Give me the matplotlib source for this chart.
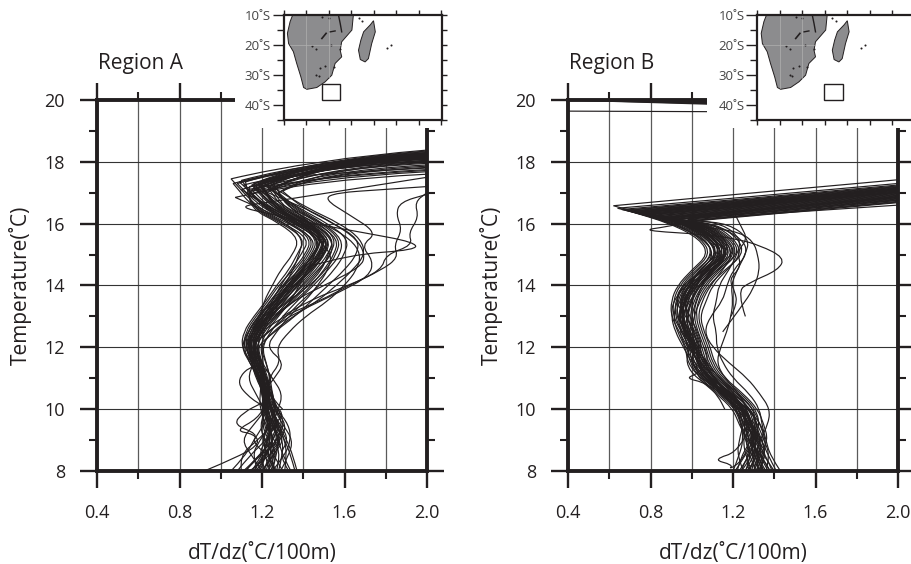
import matplotlib
matplotlib.use("Agg")
import matplotlib.pyplot as plt
from matplotlib.patches import Rectangle, Polygon, PathPatch
from matplotlib.path import Path

W, H = 911, 564
INK = "#231f20"
plt.rcParams["font.family"] = ["Open Sans", "DejaVu Sans"]

x_ticks = [0.4, 0.8, 1.2, 1.6, 2.0]
x_labels = ["0.4", "0.8", "1.2", "1.6", "2.0"]
y_ticks = [8, 10, 12, 14, 16, 18, 20]
x_minor = [0.6, 1.0, 1.4, 1.8]
y_minor = [9, 11, 13, 15, 17, 19]

# temperature levels the profiles were read at
a_temp = [8, 8.5, 9, 9.5, 10, 10.5, 11, 11.5, 12, 12.5, 13, 13.5, 14, 14.5, 15, 15.5, 16, 16.5]
b_temp = [8, 8.5, 9, 9.5, 10, 10.5, 11, 11.5, 12, 12.5, 13, 13.5, 14, 14.5, 15, 15.5, 16]

# Region A, dT/dz at a_temp, one row per profile
a_rows = [
    [1.22, 1.24, 1.25, 1.24, 1.22, 1.21, 1.20, 1.17, 1.14, 1.16, 1.21, 1.28, 1.34, 1.41, 1.47, 1.50, 1.40, 1.27],
    [1.25, 1.27, 1.28, 1.26, 1.24, 1.22, 1.21, 1.18, 1.15, 1.18, 1.23, 1.30, 1.36, 1.43, 1.49, 1.52, 1.42, 1.26],
    [1.19, 1.22, 1.24, 1.23, 1.21, 1.20, 1.19, 1.16, 1.13, 1.15, 1.20, 1.27, 1.33, 1.40, 1.46, 1.49, 1.39, 1.24],
    [1.28, 1.30, 1.30, 1.27, 1.25, 1.23, 1.21, 1.19, 1.16, 1.19, 1.25, 1.31, 1.37, 1.44, 1.50, 1.53, 1.44, 1.30],
    [1.15, 1.20, 1.23, 1.24, 1.23, 1.21, 1.18, 1.15, 1.12, 1.14, 1.19, 1.25, 1.31, 1.38, 1.44, 1.47, 1.37, 1.22],
    [1.31, 1.32, 1.31, 1.28, 1.25, 1.22, 1.20, 1.18, 1.16, 1.20, 1.26, 1.33, 1.39, 1.46, 1.52, 1.55, 1.46, 1.33],
    [1.24, 1.21, 1.22, 1.25, 1.23, 1.22, 1.21, 1.19, 1.17, 1.17, 1.22, 1.29, 1.35, 1.39, 1.45, 1.48, 1.36, 1.20],
    [1.12, 1.18, 1.26, 1.27, 1.24, 1.23, 1.22, 1.18, 1.14, 1.15, 1.20, 1.26, 1.32, 1.39, 1.48, 1.51, 1.43, 1.29],
    [1.36, 1.34, 1.31, 1.27, 1.26, 1.24, 1.22, 1.20, 1.17, 1.21, 1.24, 1.28, 1.33, 1.37, 1.43, 1.46, 1.33, 1.18],
    [1.20, 1.26, 1.29, 1.24, 1.21, 1.20, 1.19, 1.15, 1.13, 1.16, 1.22, 1.30, 1.38, 1.45, 1.50, 1.49, 1.38, 1.25],
    [1.08, 1.14, 1.22, 1.26, 1.22, 1.21, 1.20, 1.17, 1.15, 1.18, 1.24, 1.32, 1.40, 1.47, 1.54, 1.54, 1.45, 1.31],
    [1.26, 1.24, 1.27, 1.30, 1.27, 1.24, 1.19, 1.16, 1.12, 1.13, 1.18, 1.24, 1.30, 1.36, 1.42, 1.45, 1.35, 1.19],
    [1.17, 1.23, 1.20, 1.23, 1.22, 1.20, 1.22, 1.20, 1.18, 1.19, 1.27, 1.34, 1.41, 1.48, 1.53, 1.56, 1.48, 1.35],
    [1.33, 1.28, 1.33, 1.29, 1.24, 1.23, 1.23, 1.18, 1.14, 1.17, 1.21, 1.25, 1.29, 1.34, 1.39, 1.43, 1.31, 1.16],
    [1.10, 1.09, 1.18, 1.25, 1.25, 1.22, 1.21, 1.19, 1.15, 1.20, 1.23, 1.27, 1.34, 1.42, 1.50, 1.52, 1.41, 1.24],
    [1.29, 1.33, 1.35, 1.30, 1.26, 1.25, 1.22, 1.17, 1.11, 1.12, 1.17, 1.23, 1.28, 1.35, 1.41, 1.44, 1.34, 1.21],
    [1.21, 1.19, 1.24, 1.21, 1.20, 1.21, 1.19, 1.16, 1.14, 1.17, 1.26, 1.36, 1.44, 1.50, 1.55, 1.57, 1.47, 1.32],
    [1.23, 1.25, 1.23, 1.26, 1.24, 1.22, 1.20, 1.21, 1.19, 1.22, 1.28, 1.34, 1.38, 1.42, 1.46, 1.47, 1.40, 1.28],
    [1.18, 1.15, 1.19, 1.24, 1.22, 1.20, 1.18, 1.14, 1.11, 1.13, 1.18, 1.26, 1.36, 1.44, 1.48, 1.50, 1.37, 1.23],
    [1.27, 1.29, 1.26, 1.22, 1.23, 1.24, 1.23, 1.20, 1.16, 1.16, 1.20, 1.27, 1.32, 1.40, 1.51, 1.53, 1.43, 1.27],
    [1.05, 1.12, 1.16, 1.21, 1.23, 1.22, 1.20, 1.18, 1.15, 1.19, 1.25, 1.29, 1.35, 1.43, 1.47, 1.51, 1.44, 1.34],
    [1.37, 1.35, 1.32, 1.28, 1.25, 1.22, 1.21, 1.17, 1.13, 1.15, 1.19, 1.24, 1.30, 1.38, 1.46, 1.48, 1.36, 1.21],
    [1.14, 1.24, 1.30, 1.25, 1.21, 1.23, 1.22, 1.19, 1.17, 1.21, 1.27, 1.35, 1.42, 1.49, 1.52, 1.55, 1.45, 1.28],
    [1.22, 1.18, 1.22, 1.27, 1.26, 1.21, 1.17, 1.15, 1.12, 1.15, 1.23, 1.33, 1.43, 1.51, 1.56, 1.58, 1.49, 1.36],
    [1.30, 1.26, 1.21, 1.19, 1.22, 1.23, 1.21, 1.16, 1.13, 1.14, 1.20, 1.26, 1.31, 1.35, 1.38, 1.40, 1.32, 1.17],
    [1.16, 1.21, 1.27, 1.31, 1.28, 1.24, 1.22, 1.20, 1.15, 1.18, 1.22, 1.28, 1.34, 1.40, 1.44, 1.50, 1.41, 1.25],
    [1.25, 1.31, 1.34, 1.33, 1.27, 1.25, 1.24, 1.22, 1.20, 1.24, 1.30, 1.37, 1.45, 1.52, 1.58, 1.59, 1.50, 1.37],
    [1.11, 1.19, 1.25, 1.22, 1.19, 1.19, 1.20, 1.15, 1.10, 1.11, 1.16, 1.22, 1.27, 1.33, 1.37, 1.41, 1.30, 1.15],
    [1.20, 1.15, 1.10, 1.16, 1.22, 1.20, 1.26, 1.31, 1.22, 1.27, 1.33, 1.41, 1.47, 1.52, 1.54, 1.47, 1.39, 1.26],
    [1.24, 1.28, 1.23, 1.20, 1.21, 1.17, 1.13, 1.16, 1.14, 1.23, 1.32, 1.39, 1.48, 1.55, 1.60, 1.62, 1.52, 1.38],
    [1.34, 1.30, 1.28, 1.25, 1.28, 1.30, 1.25, 1.20, 1.17, 1.26, 1.36, 1.44, 1.52, 1.60, 1.66, 1.67, 1.55, 1.40],
    [1.21, 1.23, 1.29, 1.32, 1.26, 1.23, 1.19, 1.14, 1.10, 1.13, 1.19, 1.21, 1.25, 1.29, 1.35, 1.38, 1.29, 1.14],
    [1.18, 1.22, 1.26, 1.23, 1.20, 1.22, 1.24, 1.22, 1.19, 1.25, 1.35, 1.47, 1.56, 1.64, 1.70, 1.68, 1.58, 1.42],
    [1.27, 1.23, 1.20, 1.24, 1.27, 1.25, 1.23, 1.29, 1.27, 1.33, 1.41, 1.52, 1.60, 1.66, 1.68, 1.63, 1.50, 1.33],
    [1.23, 1.27, 1.24, 1.28, 1.25, 1.21, 1.19, 1.17, 1.16, 1.19, 1.22, 1.26, 1.33, 1.41, 1.49, 1.50, 1.42, 1.25],
    [1.16, 1.20, 1.28, 1.25, 1.23, 1.21, 1.21, 1.17, 1.13, 1.16, 1.24, 1.31, 1.37, 1.42, 1.48, 1.53, 1.38, 1.22],
    [1.26, 1.22, 1.25, 1.29, 1.24, 1.23, 1.20, 1.18, 1.15, 1.17, 1.23, 1.29, 1.36, 1.44, 1.51, 1.51, 1.40, 1.28],
    [1.20, 1.25, 1.31, 1.26, 1.22, 1.22, 1.18, 1.16, 1.14, 1.15, 1.21, 1.28, 1.32, 1.39, 1.45, 1.49, 1.44, 1.30],
]
# where each profile turns back, then its bend near x = 1.45 and its value at x = 2.0
a_turn_x = [1.16, 1.20, 1.10, 1.22, 1.14, 1.25, 1.08, 1.18, 1.05, 1.12, 1.24, 1.07, 1.20, 1.06, 1.15, 1.11, 1.22, 1.19,
            1.09, 1.17, 1.26, 1.10, 1.21, 1.23, 1.13, 1.16, 1.28, 1.12, 1.20, 1.24, 1.30, 1.14, 1.26, 1.28, 1.15, 1.13, 1.18, 1.17]
a_turn_t = [17.2, 17.3, 17.1, 17.25, 17.05, 17.35, 17.3, 17.15, 17.45, 17.0, 17.2, 16.85, 17.4, 17.3, 17.1, 17.25, 17.0, 17.3,
            17.35, 17.15, 17.1, 17.4, 17.05, 17.2, 16.95, 17.3, 17.0, 17.35, 17.2, 17.1, 17.05, 17.2, 17.15, 17.0, 17.25, 17.1, 17.3, 17.2]
a_knee_t = [17.93, 17.97, 17.85, 17.9, 17.76, 18.04, 17.95, 17.9, 18.08, 17.56, 17.98, 17.42, 18.05, 18.0, 17.91, 17.82, 17.7, 18.02,
            17.94, 17.88, 17.97, 18.03, 17.8, 18.0, 17.49, 18.01, 17.78, 18.07, 17.96, 17.92, 17.62, 17.84, 17.91, 17.66, 18.04, 17.52, 17.99, 17.89]
a_end_t = [18.15, 18.2, 18.05, 18.1, 17.95, 18.3, 18.18, 18.1, 18.38, 17.75, 18.22, 17.6, 18.33, 18.25, 18.12, 18.02, 17.9, 18.27,
           18.17, 18.08, 18.21, 18.28, 18.0, 18.24, 17.68, 18.26, 17.98, 18.35, 18.19, 18.14, 17.82, 18.04, 18.13, 17.86, 18.3, 17.72, 18.23, 18.11]

# Region A profiles that do not follow the main bundle
a_extra_x = [
    [1.30, 1.42, 1.62, 1.78, 1.80, 1.93, 1.91, 1.96, 1.94, 2.00],
    [1.22, 1.30, 1.48, 1.62, 1.78, 1.86, 1.84, 1.88, 1.85, 1.87, 2.00],
    [1.20, 1.28, 1.42, 1.58, 1.72, 1.74, 1.68, 1.76, 1.62, 1.50, 1.56, 1.78, 2.00],
    [1.25, 1.35, 1.50, 1.68, 1.70, 1.66, 1.55, 1.44, 1.30, 1.16, 1.28, 1.60, 2.00],
    [1.42, 1.62, 1.95, 1.94, 1.70, 1.45, 1.25, 1.08, 1.24, 2.00],
    [0.92, 1.10, 1.19, 1.16, 1.07, 1.18, 1.22],
    [1.12, 1.20, 1.30, 1.24, 1.32, 1.18, 1.24],
    [1.30, 1.21, 1.26, 1.16, 1.07, 1.15, 1.24, 1.30],
    [1.23, 1.15, 1.18, 1.06, 1.11, 1.20],
]
a_extra_t = [
    [13.0, 13.5, 14.0, 14.5, 15.0, 15.3, 15.7, 16.2, 16.7, 17.0],
    [12.6, 13.0, 13.5, 14.0, 14.5, 14.9, 15.3, 15.8, 16.3, 16.7, 16.95],
    [12.3, 12.8, 13.3, 13.8, 14.3, 14.8, 15.3, 15.7, 16.3, 16.8, 17.0, 17.1, 17.2],
    [13.0, 13.5, 14.0, 14.6, 15.0, 15.5, 16.0, 16.4, 16.8, 17.2, 17.5, 17.65, 17.8],
    [14.6, 15.0, 15.15, 15.4, 15.7, 16.0, 16.3, 16.55, 16.7, 17.5],
    [8.0, 8.5, 8.9, 9.2, 9.3, 9.7, 10.2],
    [8.0, 8.6, 9.0, 9.4, 9.9, 10.4, 11.0],
    [10.0, 10.6, 11.1, 11.5, 10.9, 10.3, 10.0, 9.8],
    [8.5, 8.9, 9.2, 9.5, 9.9, 10.2],
]

# Region B, dT/dz at b_temp, one row per profile
b_rows = [
    [1.32, 1.32, 1.30, 1.27, 1.25, 1.17, 1.08, 1.03, 1.02, 0.98, 0.96, 0.96, 1.00, 1.07, 1.16, 1.12, 1.00],
    [1.30, 1.34, 1.33, 1.29, 1.27, 1.19, 1.10, 1.05, 1.03, 0.99, 0.97, 0.98, 1.02, 1.09, 1.18, 1.14, 1.03],
    [1.35, 1.30, 1.28, 1.25, 1.23, 1.15, 1.06, 1.01, 1.00, 0.96, 0.94, 0.95, 0.98, 1.05, 1.14, 1.10, 0.98],
    [1.28, 1.31, 1.31, 1.30, 1.26, 1.18, 1.11, 1.06, 1.04, 1.00, 0.98, 0.99, 1.04, 1.11, 1.19, 1.15, 1.02],
    [1.33, 1.36, 1.34, 1.31, 1.29, 1.20, 1.09, 1.02, 1.01, 0.97, 0.93, 0.93, 0.97, 1.04, 1.12, 1.09, 0.96],
    [1.26, 1.29, 1.27, 1.24, 1.22, 1.16, 1.07, 1.04, 1.03, 1.01, 0.99, 1.01, 1.05, 1.12, 1.20, 1.16, 1.05],
    [1.37, 1.33, 1.29, 1.28, 1.24, 1.14, 1.05, 1.00, 0.99, 0.95, 0.92, 0.92, 0.96, 1.03, 1.10, 1.07, 0.94],
    [1.24, 1.27, 1.32, 1.32, 1.28, 1.21, 1.12, 1.07, 1.05, 1.02, 1.00, 1.00, 1.03, 1.10, 1.17, 1.13, 1.01],
    [1.31, 1.35, 1.36, 1.33, 1.30, 1.22, 1.13, 1.08, 1.06, 1.03, 1.01, 1.02, 1.06, 1.13, 1.21, 1.18, 1.06],
    [1.29, 1.26, 1.25, 1.26, 1.24, 1.19, 1.09, 1.03, 0.99, 0.95, 0.91, 0.91, 0.94, 1.01, 1.09, 1.05, 0.92],
    [1.39, 1.36, 1.31, 1.26, 1.21, 1.13, 1.04, 0.99, 0.98, 0.96, 0.95, 0.97, 1.01, 1.08, 1.15, 1.11, 0.99],
    [1.22, 1.24, 1.29, 1.31, 1.30, 1.23, 1.14, 1.09, 1.07, 1.04, 1.02, 1.03, 1.07, 1.14, 1.22, 1.19, 1.07],
    [1.34, 1.31, 1.33, 1.28, 1.26, 1.16, 1.05, 1.00, 1.01, 0.98, 0.96, 0.94, 0.97, 1.06, 1.17, 1.13, 1.01],
    [1.27, 1.33, 1.28, 1.30, 1.25, 1.20, 1.12, 1.04, 0.98, 0.94, 0.90, 0.90, 0.93, 1.00, 1.08, 1.04, 0.90],
    [1.41, 1.37, 1.34, 1.29, 1.27, 1.18, 1.07, 1.02, 1.04, 1.01, 0.97, 0.97, 1.00, 1.06, 1.13, 1.08, 0.95],
    [1.25, 1.22, 1.23, 1.25, 1.23, 1.18, 1.10, 1.06, 1.02, 0.97, 0.95, 0.99, 1.04, 1.12, 1.23, 1.20, 1.08],
    [1.36, 1.38, 1.35, 1.32, 1.28, 1.17, 1.04, 0.98, 0.97, 0.93, 0.91, 0.93, 0.95, 1.02, 1.11, 1.06, 0.93],
    [1.21, 1.26, 1.30, 1.33, 1.31, 1.24, 1.15, 1.10, 1.08, 1.05, 1.03, 1.05, 1.09, 1.15, 1.20, 1.16, 1.04],
    [1.33, 1.29, 1.26, 1.24, 1.22, 1.14, 1.08, 1.05, 1.00, 0.96, 0.98, 1.00, 1.02, 1.07, 1.14, 1.12, 1.00],
    [1.30, 1.32, 1.35, 1.34, 1.27, 1.19, 1.06, 0.99, 1.02, 1.00, 0.94, 0.95, 0.99, 1.04, 1.12, 1.10, 0.97],
    [1.38, 1.34, 1.27, 1.23, 1.20, 1.12, 1.03, 1.02, 1.05, 1.03, 0.99, 0.96, 0.98, 1.05, 1.19, 1.15, 1.04],
    [1.23, 1.28, 1.31, 1.27, 1.24, 1.21, 1.13, 1.08, 1.01, 0.95, 0.93, 0.97, 1.03, 1.11, 1.18, 1.11, 0.98],
    [1.35, 1.32, 1.29, 1.32, 1.29, 1.15, 1.02, 0.97, 0.99, 0.99, 1.00, 1.02, 1.05, 1.09, 1.15, 1.14, 1.02],
    [1.28, 1.25, 1.33, 1.28, 1.22, 1.17, 1.11, 1.07, 1.03, 0.98, 0.92, 0.94, 0.98, 1.08, 1.21, 1.17, 1.05],
    [1.32, 1.37, 1.32, 1.26, 1.25, 1.20, 1.09, 1.01, 0.97, 0.94, 0.96, 0.98, 1.01, 1.10, 1.16, 1.09, 0.96],
    [1.40, 1.35, 1.30, 1.29, 1.26, 1.16, 1.06, 1.03, 1.00, 0.97, 0.95, 0.96, 1.00, 1.03, 1.13, 1.12, 1.01],
    [1.26, 1.30, 1.34, 1.30, 1.28, 1.22, 1.14, 1.06, 1.04, 1.02, 0.97, 0.92, 0.95, 1.06, 1.17, 1.17, 1.07],
    [1.31, 1.28, 1.26, 1.27, 1.23, 1.13, 1.07, 1.00, 0.96, 0.92, 0.90, 0.91, 0.97, 1.05, 1.11, 1.06, 0.91],
    [1.34, 1.33, 1.37, 1.35, 1.32, 1.25, 1.16, 1.11, 1.09, 1.06, 1.04, 1.07, 1.10, 1.17, 1.24, 1.21, 1.10],
    [1.20, 1.23, 1.25, 1.24, 1.21, 1.15, 1.08, 1.04, 1.02, 1.00, 1.01, 1.04, 1.08, 1.16, 1.25, 1.23, 1.12],
    [1.43, 1.38, 1.36, 1.34, 1.33, 1.28, 1.20, 1.15, 1.12, 1.12, 1.10, 1.12, 1.13, 1.18, 1.22, 1.24, 1.15],
    [1.29, 1.31, 1.28, 1.25, 1.27, 1.23, 1.16, 1.12, 1.14, 1.17, 1.19, 1.20, 1.19, 1.22, 1.26, 1.28, 1.18],
    [1.36, 1.31, 1.33, 1.37, 1.38, 1.33, 1.27, 1.18, 1.10, 1.06, 1.09, 1.15, 1.17, 1.20, 1.27, 1.25, 1.10],
    [1.33, 1.30, 1.31, 1.30, 1.24, 1.19, 1.11, 1.06, 1.01, 0.99, 0.97, 1.00, 1.04, 1.10, 1.18, 1.13, 0.99],
    [1.27, 1.32, 1.34, 1.28, 1.26, 1.18, 1.07, 1.04, 1.02, 0.96, 0.94, 0.97, 1.00, 1.08, 1.14, 1.10, 0.97],
    [1.31, 1.29, 1.30, 1.29, 1.25, 1.16, 1.09, 1.05, 1.00, 0.99, 0.95, 0.95, 1.01, 1.06, 1.15, 1.11, 1.00],
    [1.38, 1.33, 1.32, 1.28, 1.24, 1.15, 1.10, 1.02, 1.03, 0.97, 0.96, 0.94, 0.99, 1.09, 1.17, 1.15, 1.02],
    [1.24, 1.30, 1.29, 1.26, 1.26, 1.20, 1.08, 1.03, 0.99, 0.98, 0.93, 0.96, 1.02, 1.07, 1.12, 1.08, 0.95],
]
b_turn_x = [0.78, 0.72, 0.86, 0.82, 0.66, 0.90, 0.62, 0.80, 0.84, 0.70, 0.74, 0.92, 0.76, 0.68, 0.88, 0.94, 0.64, 0.86,
            0.79, 0.73, 0.83, 0.77, 0.91, 0.71, 0.81, 0.85, 0.75, 0.69, 0.95, 0.89, 0.98, 1.02, 0.87, 0.78, 0.74, 0.82, 0.80, 0.76]
b_turn_t = [16.33, 16.39, 16.20, 16.28, 16.46, 16.14, 16.58, 16.29, 16.21, 16.41, 16.35, 16.12, 16.35, 16.44, 16.17, 16.09, 16.50, 16.18,
            16.31, 16.37, 16.25, 16.33, 16.13, 16.40, 16.25, 16.19, 16.35, 16.43, 16.07, 16.16, 16.14, 16.09, 16.18, 16.30, 16.38, 16.22, 16.30, 16.38]
b_knee_t = [16.48, 16.58, 16.31, 16.41, 16.68, 16.23, 16.85, 16.43, 16.33, 16.61, 16.53, 16.19, 16.51, 16.65, 16.27, 16.15, 16.73, 16.29,
            16.46, 16.55, 16.37, 16.49, 16.21, 16.59, 16.39, 16.30, 16.52, 16.63, 16.13, 16.25, 16.18, 16.11, 16.28, 16.45, 16.56, 16.35, 16.44, 16.54]
b_end_t = [17.05, 17.15, 16.88, 16.98, 17.25, 16.8, 17.42, 17.0, 16.9, 17.18, 17.1, 16.76, 17.08, 17.22, 16.84, 16.72, 17.3, 16.86,
           17.03, 17.12, 16.94, 17.06, 16.78, 17.16, 16.96, 16.87, 17.09, 17.2, 16.7, 16.82, 16.75, 16.68, 16.85, 17.02, 17.13, 16.92, 17.01, 17.11]

# Region B profiles that do not follow the main bundle
b_extra_x = [
    [1.26, 1.22, 1.28, 1.42, 1.45, 1.33, 1.22, 1.07, 0.75, 0.88, 1.10, 2.00],
    [1.15, 1.24, 1.30, 1.33, 1.32, 1.30, 1.24, 1.12, 0.96, 0.86, 1.20],
    [1.30, 1.24, 1.10, 1.20, 1.18, 1.24, 1.29, 1.24, 1.22],
    [1.06, 1.09, 1.03, 0.97, 1.07, 1.13, 1.16],
    [1.19, 1.22, 1.21, 1.18, 1.24, 1.22, 1.27, 1.24, 1.21],
    [0.40, 2.00],
]
b_extra_t = [
    [13.0, 13.8, 14.1, 14.5, 14.9, 15.3, 15.5, 15.65, 15.78, 15.9, 16.2, 16.6],
    [12.5, 13.3, 13.9, 14.5, 15.0, 15.4, 15.7, 15.85, 15.95, 16.1, 16.35],
    [9.7, 8.65, 8.37, 8.2, 8.05, 8.3, 9.0, 9.6, 10.2],
    [12.0, 11.6, 11.15, 11.0, 10.85, 10.4, 10.0],
    [13.0, 13.4, 13.8, 14.2, 14.6, 15.1, 15.5, 15.9, 16.3],
    [19.64, 19.6],
]
# the heavy wedge under the top edge of Region B
b_wedge_x = [0.40, 2.00]
b_wedge_ends = [19.69, 19.74, 19.8, 19.85, 19.9]

a_top_x = 1.45
b_top_x = 1.05

# map outlines
africa_lon = [13.1, 12.2, 11.3, 11.7, 13.3, 14.4, 15.8, 16.7, 17.8, 21.1, 23.9, 26.1, 27.2, 29.4, 28.9, 29.4, 32.8, 33.3]
africa_lat = [-10, -12.3, -16.2, -19.6, -22.3, -26.2, -30.7, -34.2, -34.8, -34.2, -32.3, -30.1, -26.2, -24, -21.8, -19, -15.1, -10]
madagascar_lon = [40, 38.9, 36.7, 35.8, 35, 35.6, 37.2, 38.3, 39.4, 40.6]
madagascar_lat = [-12, -13.4, -15.7, -18.4, -21.8, -24.9, -25.7, -24.6, -19.6, -15.7]
lakes_lon = [25, 22.8, 19.4, 20.9, 22, 23.9, 21.7, 20.9, 26.7, 25.8, 28.9, 44.4, 45.8, 35, 36.1]
lakes_lat = [-11.2, -10.9, -20.4, -21.4, -27.7, -27, -30.4, -30.1, -27.3, -20.1, -21.5, -21.2, -20.2, -11.2, -12.1]
malawi_lon = [28.3, 28.9, 29.4]
malawi_lat = [-10, -12.9, -15.7]
kariba_lon = [22.8, 24.2]
kariba_lat = [-17.9, -16.2]
cahora_lon = [25.6, 27.2]
cahora_lat = [-15.7, -15.4]
a_box_lon = [22.8, 28.9]
b_box_lon = [32.3, 38.5]
box_lat = [-38.2, -33.1]
lat_labels = ["10˚S", "20˚S", "30˚S", "40˚S"]


def px_axes(fig, left, right, top, bottom, **kw):
    return fig.add_axes([left / W, 1 - bottom / H, (right - left) / W, (bottom - top) / H], **kw)


def round_path(xs, ys):
    # quadratic pieces through the midpoints, keeps the pen line from looking kinked
    verts = [(xs[0], ys[0])]
    codes = [Path.MOVETO]
    for i in range(1, len(xs) - 1):
        verts += [(xs[i], ys[i]), ((xs[i] + xs[i + 1]) / 2, (ys[i] + ys[i + 1]) / 2)]
        codes += [Path.CURVE3, Path.CURVE3]
    verts.append((xs[-1], ys[-1]))
    codes.append(Path.LINETO)
    return verts, codes


def panel(fig, left, title, title_x, rows, temp, turn_x, turn_t, top_x, knee_t, end_t, extra_x, extra_t):
    ax = px_axes(fig, left, left + 330, 100, 471)
    ax.set_xlim(0.4, 2.0)
    ax.set_ylim(8, 20)
    for v in x_ticks + x_minor:
        ax.axvline(v, color="#5a5a5a", lw=0.9, zorder=1)
    for v in y_ticks:
        ax.axhline(v, color="#333333", lw=0.8, zorder=1)
    for row, tx, tt, kt, et in zip(rows, turn_x, turn_t, knee_t, end_t):
        verts, codes = round_path(row + [tx], temp + [tt])
        verts += [(top_x, kt), (2.0, et)]
        codes += [Path.CURVE3, Path.CURVE3]
        ax.add_patch(PathPatch(Path(verts, codes), fill=False, edgecolor=INK, lw=0.85, zorder=3))
    for ex, et in zip(extra_x, extra_t):
        verts, codes = round_path(ex, et)
        ax.add_patch(PathPatch(Path(verts, codes), fill=False, edgecolor=INK, lw=0.85, zorder=3))

    ax.set_xticks(x_ticks)
    ax.set_xticklabels(x_labels)
    ax.set_yticks(y_ticks)
    ax.set_xticks(x_minor, minor=True)
    ax.set_yticks(y_minor, minor=True)
    ax.tick_params(which="major", length=12, width=1.7, color=INK, top=True, right=True,
                   labelsize=13, labelcolor=INK)
    ax.tick_params(which="minor", length=6, width=1.5, color=INK, top=True, right=True)
    ax.tick_params(axis="x", which="major", pad=12)
    ax.tick_params(axis="y", which="major", pad=11)
    for side in ax.spines:
        ax.spines[side].set_linewidth(2.8)
        ax.spines[side].set_color(INK)
        ax.spines[side].set_zorder(4)
    ax.set_xlabel("dT/dz(˚C/100m)", fontsize=15, color=INK, va="center")
    ax.xaxis.set_label_coords(0.5, -82 / 371)
    ax.set_ylabel("Temperature(˚C)", fontsize=15, color=INK, va="center")
    ax.yaxis.set_label_coords(-77 / 330, 0.5)
    fig.text(title_x / W, 1 - 63 / H, title, fontsize=15, color=INK, ha="left", va="center")
    return ax


def inset(fig, left, cut, box_lon):
    # white block hides the top right of the panel under the map
    fig.add_artist(Rectangle((cut / W, 1 - 128 / H), 215 / W, 128 / H, transform=fig.transFigure,
                             facecolor="white", edgecolor="none", zorder=5))
    m = px_axes(fig, left, left + 158.2, 14.7, 120)
    m.set_zorder(6)
    m.set_xlim(10, 62.73)
    m.set_ylim(-45, -10)
    m.add_patch(Polygon(list(zip(africa_lon, africa_lat)), closed=True, facecolor="#8c8c8e", edgecolor=INK, lw=0.7))
    m.add_patch(Polygon(list(zip(madagascar_lon, madagascar_lat)), closed=True, facecolor="#8c8c8e", edgecolor=INK, lw=0.7))
    m.plot([17.5, 17.5], [-10, -34.2], color="#b0b0b0", lw=0.5)
    m.plot([25, 25], [-10, -31], color="#b0b0b0", lw=0.5)
    m.plot([12, 29], [-20, -20], color="#b0b0b0", lw=0.5)
    m.scatter(lakes_lon, lakes_lat, s=2.2, color=INK, linewidths=0)
    m.plot(malawi_lon, malawi_lat, color=INK, lw=1.0)
    m.plot(kariba_lon, kariba_lat, color=INK, lw=1.2)
    m.plot(cahora_lon, cahora_lat, color=INK, lw=1.0)
    m.add_patch(Rectangle((box_lon[0], box_lat[0]), box_lon[1] - box_lon[0], box_lat[1] - box_lat[0],
                          facecolor="none", edgecolor=INK, lw=1.0))
    m.set_xticks([10 + 7.5 * i for i in range(8)])
    m.set_xticklabels([])
    m.set_yticks([-10, -20, -30, -40])
    m.set_yticklabels(lat_labels)
    m.set_yticks([-15, -25, -35, -45], minor=True)
    m.tick_params(axis="x", top=True, color=INK, width=1.0, length=3.8)
    m.tick_params(axis="y", which="major", color=INK, width=1.0, length=8, labelsize=9.5, labelcolor="#444444", pad=1)
    m.tick_params(axis="y", which="minor", color=INK, width=1.0, length=5)
    right = m.secondary_yaxis("right")
    right.set_yticks([-10, -15, -20, -25, -30, -35, -40, -45])
    right.set_yticklabels([])
    right.tick_params(length=3.8, width=1.0, color=INK)
    right.spines["right"].set_visible(False)
    for side in m.spines:
        m.spines[side].set_linewidth(1.6)
        m.spines[side].set_color(INK)


fig = plt.figure(figsize=(W / 100, H / 100), dpi=100)
panel(fig, 97, "Region A", 98, a_rows, a_temp, a_turn_x, a_turn_t, a_top_x, a_knee_t, a_end_t, a_extra_x, a_extra_t)
ax_b = panel(fig, 568, "Region B", 569, b_rows, b_temp, b_turn_x, b_turn_t, b_top_x, b_knee_t, b_end_t, b_extra_x, b_extra_t)
for end in b_wedge_ends:
    ax_b.plot(b_wedge_x, [20, end], color=INK, lw=1.0, zorder=4)
inset(fig, 283.5, 234.5, a_box_lon)
inset(fig, 757.3, 706.5, b_box_lon)
fig.savefig("out.png", dpi=100)
